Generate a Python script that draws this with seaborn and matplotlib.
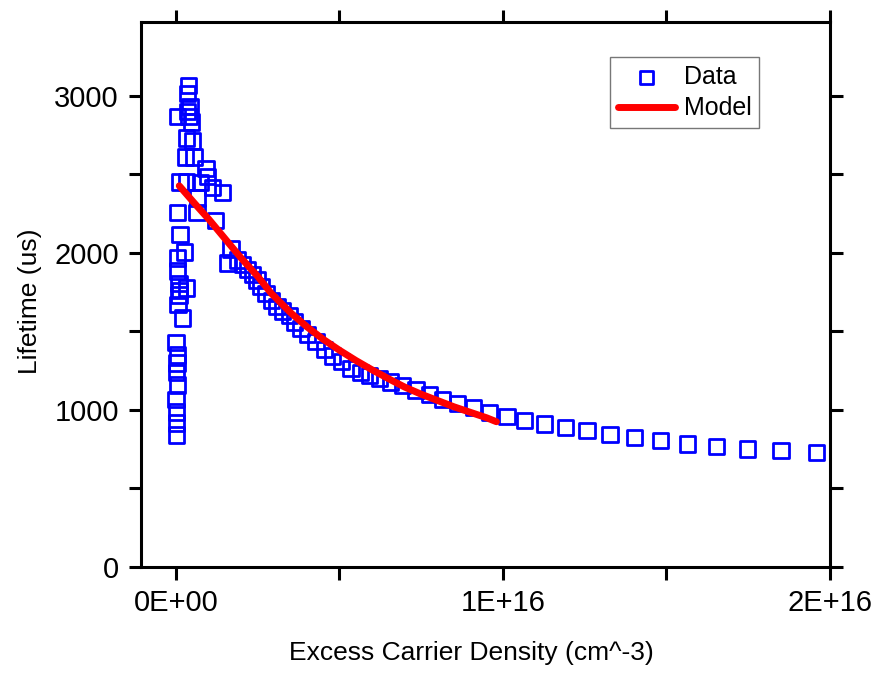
import matplotlib
matplotlib.use("Agg")
import matplotlib.pyplot as plt
import pandas as pd
import seaborn as sns
from matplotlib.ticker import FixedLocator

# measured lifetime data, x in units of 1e15 cm^-3
data_x_e15 = [
    0.38, 0.36, 0.43, 0.05, 0.40, 0.48, 0.31, 0.51, 0.28, 0.55,
    0.92, 0.97, 0.12, 0.31, 0.76, 1.12, 1.43, 0.66, 0.05, 0.64,
    1.22, 0.12, 0.25, 0.05, 0.05, 1.68, 1.59, 0.09, 0.31, 0.09,
    0.06, 0.20, 0.00, 0.05, 0.03, 0.02, 0.05, 0.00, 0.02, 0.02,
    0.02, 0.35, 0.10,
    1.89, 2.04, 2.19, 2.35, 2.48, 2.60, 2.75, 2.91, 3.09, 3.25,
    3.46, 3.62, 3.82, 4.03, 4.28, 4.54, 4.79, 5.05, 5.35, 5.64,
    5.91, 6.22, 6.57, 6.93, 7.34, 7.75, 8.16, 8.61, 9.10, 9.58,
    10.12, 10.67, 11.28, 11.90, 12.57, 13.27, 14.02, 14.81, 15.65, 16.54,
    17.48, 18.50, 19.58,
]
data_lifetime = [
    3064, 3017, 2930, 2866, 2866, 2834, 2732, 2713, 2611, 2611,
    2535, 2484, 2452, 2452, 2446, 2414, 2382, 2350, 2255, 2255,
    2204, 2115, 2006, 1968, 1885, 2025, 1936, 1803, 1777, 1732,
    1669, 1586, 1427, 1350, 1299, 1236, 1159, 1064, 987, 917,
    841, 2900, 1760,
    1955, 1924, 1896, 1864, 1828, 1785, 1743, 1696, 1658, 1630,
    1600, 1560, 1520, 1478, 1435, 1386, 1344, 1308, 1265, 1240,
    1218, 1198, 1178, 1157, 1127, 1096, 1068, 1042, 1015, 985,
    957, 932, 911, 890, 868, 845, 826, 804, 783, 766,
    752, 741, 728,
]

# fitted model curve, x in units of 1e15 cm^-3
model_x_e15 = [0.10, 0.56, 1.0, 1.5, 2.0, 2.5, 2.91, 3.5, 4.0, 4.5, 5.0,
               5.5, 6.0, 6.57, 7.0, 7.5, 8.0, 8.5, 9.0, 9.5, 9.8]
model_lifetime = [2427, 2317, 2215, 2090, 1965, 1850, 1743, 1620, 1530, 1450, 1380,
                  1315, 1255, 1191, 1145, 1100, 1060, 1020, 985, 950, 925]

x_major = [0, 1e16, 2e16]
x_tick_labels = ["0E+00", "1E+16", "2E+16"]
x_minor = [5e15, 1.5e16]
y_major = [0, 1000, 2000, 3000]
y_minor = [500, 1500, 2500]


def main() -> None:
    sns.set_theme(style="ticks")
    plt.rcParams["font.family"] = ["Liberation Sans", "DejaVu Sans"]
    plt.rcParams["text.color"] = "black"
    plt.rcParams["axes.labelcolor"] = "black"
    plt.rcParams["xtick.color"] = "black"
    plt.rcParams["ytick.color"] = "black"

    data = pd.DataFrame({"density": [v * 1e15 for v in data_x_e15], "lifetime": data_lifetime})
    model = pd.DataFrame({"density": [v * 1e15 for v in model_x_e15], "lifetime": model_lifetime})

    fig = plt.figure(figsize=(8.78, 6.73), dpi=100)
    ax = fig.add_axes([0.1606, 0.1575, 0.7847, 0.8098])

    sns.scatterplot(data=data, x="density", y="lifetime", marker="s", s=120,
                    facecolor="none", edgecolor="#0000FF", linewidth=2.0,
                    label="Data", ax=ax, zorder=2)
    sns.lineplot(data=model, x="density", y="lifetime", color="#FF0000",
                 linewidth=5, label="Model", ax=ax, zorder=3)

    ax.set_xlim(-1.07e15, 2.0e16)
    ax.set_ylim(0, 3470)
    ax.set_xticks(x_major)
    ax.set_xticklabels(x_tick_labels)
    ax.xaxis.set_minor_locator(FixedLocator(x_minor))
    ax.set_yticks(y_major)
    ax.yaxis.set_minor_locator(FixedLocator(y_minor))

    ax.tick_params(which="both", direction="out", top=True, right=True,
                   length=9, width=2.2, color="black")
    ax.tick_params(which="major", labelsize=21, pad=7, labelcolor="black")
    for spine in ax.spines.values():
        spine.set_linewidth(2.2)
        spine.set_color("black")

    ax.set_xlabel("Excess Carrier Density (cm^-3)", fontsize=19, color="black")
    ax.set_ylabel("Lifetime (us)", fontsize=19, color="black")
    ax.xaxis.set_label_coords(0.48, -0.135)
    ax.yaxis.set_label_coords(-0.143, 0.488)

    leg = ax.legend(loc="upper left", bbox_to_anchor=(0.681, 0.935), borderaxespad=0,
                    fontsize=18, frameon=True, fancybox=False, handlelength=2.3,
                    handletextpad=0.35, borderpad=0.3, labelspacing=0.3,
                    markerscale=0.85)
    leg.get_frame().set_edgecolor("#555555")
    leg.get_frame().set_linewidth(1.0)
    for text in leg.get_texts():
        text.set_color("black")

    fig.savefig("out.png", dpi=100)


if __name__ == "__main__":
    main()
